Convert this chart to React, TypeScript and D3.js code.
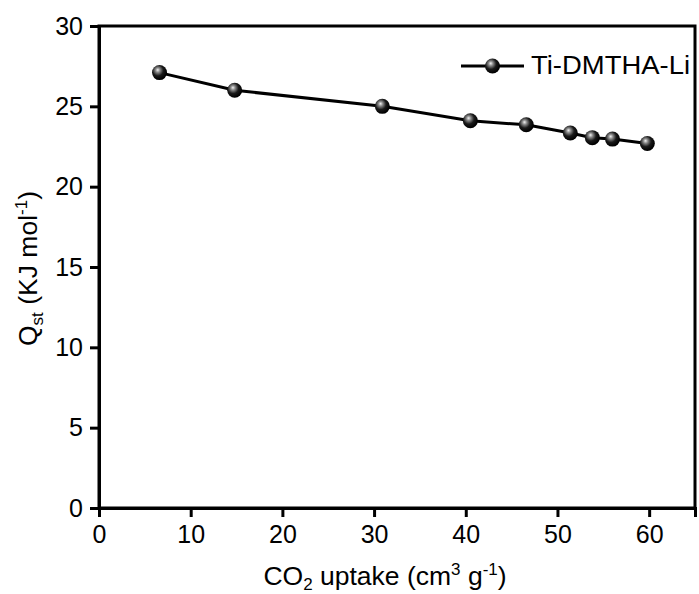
import { useEffect, useRef } from "react";
import * as d3 from "d3";

const uptake = [6.6, 14.8, 30.9, 40.5, 46.6, 51.4, 53.8, 56.0, 59.8];
const qst = [27.1, 26.0, 25.0, 24.1, 23.85, 23.34, 23.05, 22.96, 22.69];
const xTicks = [0, 10, 20, 30, 40, 50, 60];
const yTicks = [0, 5, 10, 15, 20, 25, 30];
const seriesName = "Ti-DMTHA-Li";

export default function App() {
  const ref = useRef<SVGSVGElement>(null);

  useEffect(() => {
    const svg = d3.select(ref.current);
    svg.selectAll("*").remove();

    const width = 699;
    const height = 594;
    const margin = { top: 26, right: 4, bottom: 86, left: 99 };
    const font = "'Liberation Sans', Arial, sans-serif";

    svg.attr("width", width).attr("height", height);

    const x = d3.scaleLinear().domain([0, 65]).range([margin.left, width - margin.right]);
    const y = d3.scaleLinear().domain([0, 30]).range([height - margin.bottom, margin.top]);

    const defs = svg.append("defs");
    const grad = defs.append("radialGradient")
      .attr("id", "ball")
      .attr("cx", "40%").attr("cy", "38%").attr("r", "60%")
      .attr("fx", "38%").attr("fy", "32%");
    grad.append("stop").attr("offset", "0%").attr("stop-color", "#f2f2f2");
    grad.append("stop").attr("offset", "25%").attr("stop-color", "#8a8a8a");
    grad.append("stop").attr("offset", "60%").attr("stop-color", "#1a1a1a");
    grad.append("stop").attr("offset", "100%").attr("stop-color", "#000");

    const data = uptake.map((u, i) => ({ u, q: qst[i] }));

    // frame
    svg.append("rect")
      .attr("x", x(0)).attr("y", y(30))
      .attr("width", x(65) - x(0)).attr("height", y(0) - y(30))
      .attr("fill", "none").attr("stroke", "#000").attr("stroke-width", 3);

    const xAxis = svg.append("g")
      .attr("transform", `translate(0,${y(0)})`)
      .call(d3.axisBottom(x).tickValues(xTicks).tickSize(9).tickPadding(8).tickFormat(d3.format("d")));
    const yAxis = svg.append("g")
      .attr("transform", `translate(${x(0)},0)`)
      .call(d3.axisLeft(y).tickValues(yTicks).tickSize(9).tickPadding(7).tickFormat(d3.format("d")));

    [xAxis, yAxis].forEach(g => {
      g.select(".domain").attr("stroke-width", 3);
      g.selectAll(".tick line").attr("stroke-width", 3);
      g.selectAll(".tick text")
        .attr("font-family", font)
        .attr("font-size", 25)
        .attr("fill", "#000");
    });

    const line = d3.line<{ u: number; q: number }>().x(d => x(d.u)).y(d => y(d.q));
    svg.append("path")
      .datum(data)
      .attr("d", line)
      .attr("fill", "none")
      .attr("stroke", "#000")
      .attr("stroke-width", 3);

    svg.selectAll("circle.pt")
      .data(data)
      .join("circle")
      .attr("class", "pt")
      .attr("cx", d => x(d.u))
      .attr("cy", d => y(d.q))
      .attr("r", 7.5)
      .attr("fill", "url(#ball)");

    // legend
    const ly = 66;
    svg.append("line")
      .attr("x1", 461).attr("x2", 524).attr("y1", ly).attr("y2", ly)
      .attr("stroke", "#000").attr("stroke-width", 3);
    svg.append("circle")
      .attr("cx", 492.5).attr("cy", ly).attr("r", 7.5).attr("fill", "url(#ball)");
    svg.append("text")
      .attr("x", 531).attr("y", ly + 8)
      .attr("font-family", font).attr("font-size", 26.5)
      .attr("textLength", 159).attr("lengthAdjust", "spacingAndGlyphs")
      .text(seriesName);

    // x title
    const xt = svg.append("text")
      .attr("x", 385).attr("y", 585)
      .attr("text-anchor", "middle")
      .attr("font-family", font).attr("font-size", 26.5);
    xt.append("tspan").text("CO");
    xt.append("tspan").attr("font-size", 17).attr("dy", 5).text("2");
    xt.append("tspan").attr("dy", -5).text(" uptake (cm");
    xt.append("tspan").attr("font-size", 17).attr("dy", -10).text("3");
    xt.append("tspan").attr("dy", 10).text(" g");
    xt.append("tspan").attr("font-size", 17).attr("dy", -10).text("-1");
    xt.append("tspan").attr("dy", 10).text(")");

    // y title
    const yt = svg.append("text")
      .attr("transform", `translate(37,${(187 + 350) / 2}) rotate(-90)`)
      .attr("text-anchor", "middle")
      .attr("font-family", font).attr("font-size", 26.5);
    yt.append("tspan").text("Q");
    yt.append("tspan").attr("font-size", 17).attr("dy", 6).text("st");
    yt.append("tspan").attr("dy", -6).text(" (KJ mol");
    yt.append("tspan").attr("font-size", 17).attr("dy", -10).text("-1");
    yt.append("tspan").attr("dy", 10).text(")");
  }, []);

  return <svg ref={ref} style={{ position: "absolute", left: 0, top: 0 }}></svg>;
}
